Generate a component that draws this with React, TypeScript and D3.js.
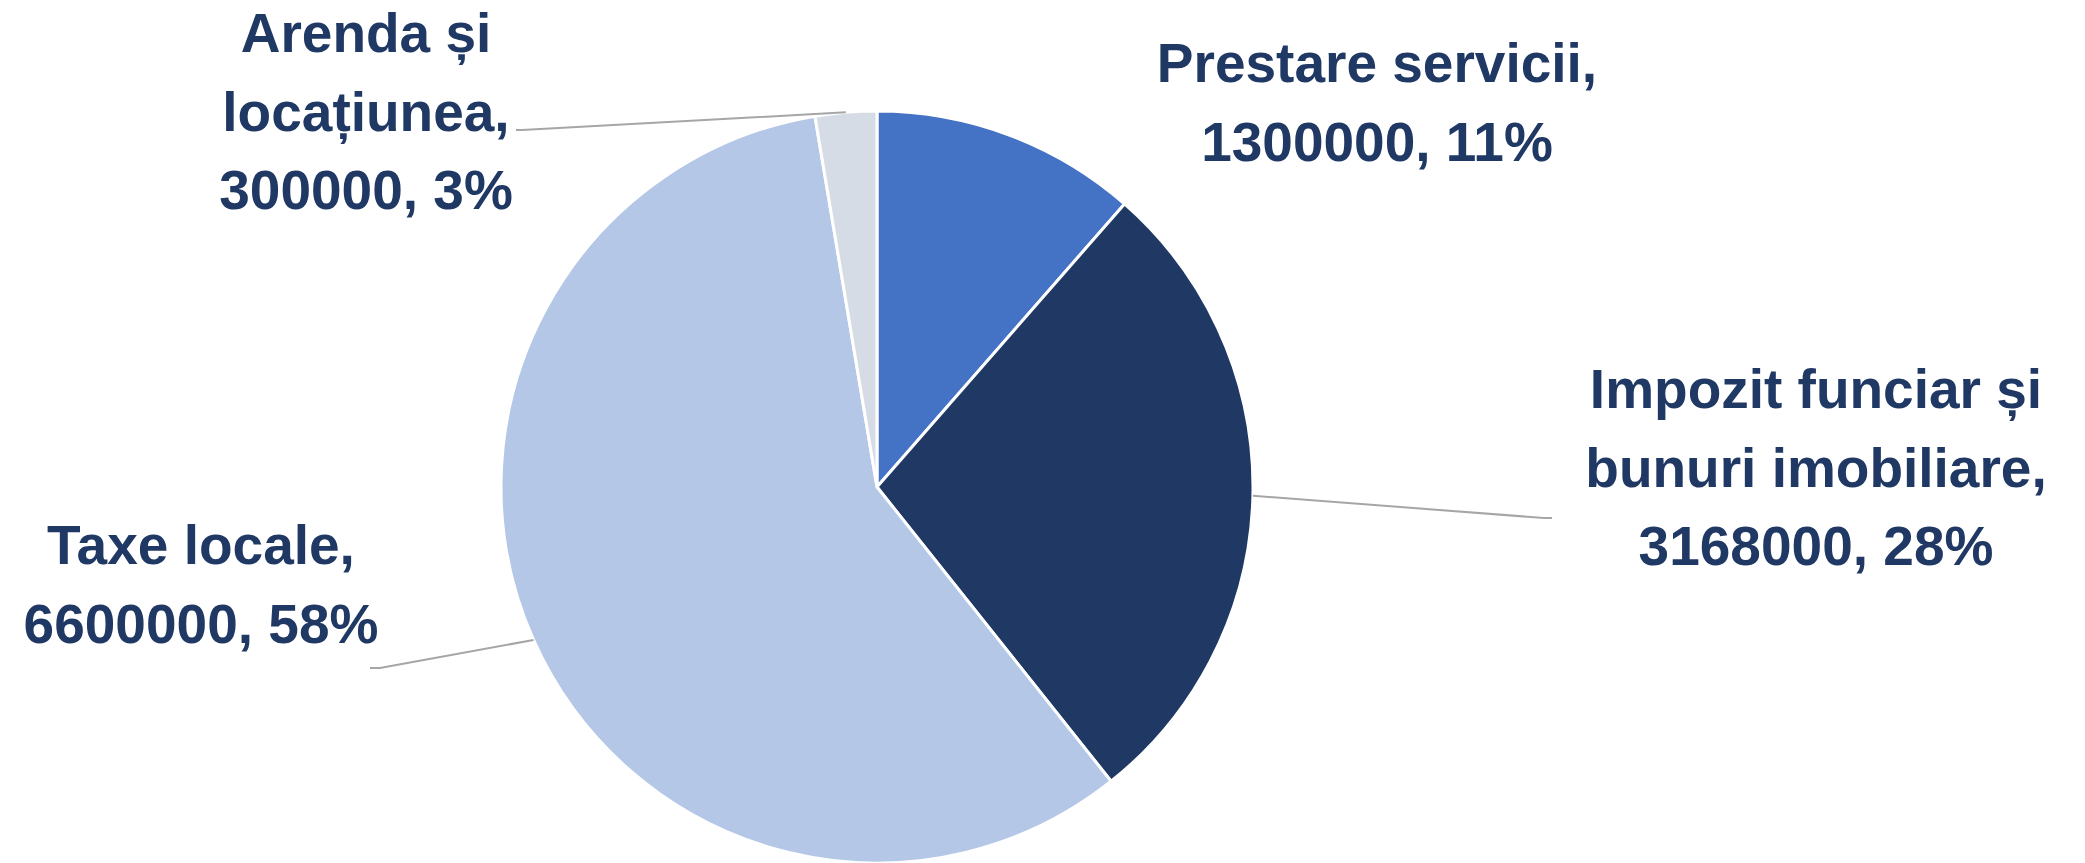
import React from "react";
import * as d3 from "d3";

const categories = ["Prestare servicii", "Impozit funciar și bunuri imobiliare", "Taxe locale", "Arenda și locațiunea"];
const values = [1300000, 3168000, 6600000, 300000];
const colors = ["#4472C4", "#203864", "#B4C7E7", "#D6DCE5"];
const labelLines = [
  ["Prestare servicii,", "1300000, 11%"],
  ["Impozit funciar și", "bunuri imobiliare,", "3168000, 28%"],
  ["Taxe locale,", "6600000, 58%"],
  ["Arenda și", "locațiunea,", "300000, 3%"],
];

const W = 2085;
const H = 863;
const CX = 877;
const CY = 487;
const R = 376;
const LINE_H = 78.5;
// label layout: center x, first baseline y, leader end (or null)
const labelLayout = [
  { x: 1377, y: 82, leader: null as null | [number, number][] },
  { x: 1816, y: 408, leader: [[1544, 518], [1552, 518]] as [number, number][] },
  { x: 201, y: 564, leader: [[380, 668], [370, 668]] as [number, number][] },
  { x: 366, y: 52, leader: [[522, 130], [516, 130]] as [number, number][] },
];

export default function App() {
  const pie = d3.pie<number>().sort(null).value((d) => d);
  const arcs = pie(values);
  const arc = d3.arc<d3.PieArcDatum<number>>().innerRadius(0).outerRadius(R);
  const line = d3.line();

  return (
    <svg width={W} height={H} style={{ position: "absolute", left: 0, top: 0, background: "#fff" }}>
      <g transform={`translate(${CX},${CY})`}>
        {arcs.map((a, i) => (
          <path key={i} d={arc(a) || ""} fill={colors[i]} stroke="#fff" strokeWidth={3} strokeLinejoin="round" />
        ))}
      </g>
      {arcs.map((a, i) => {
        const lay = labelLayout[i];
        if (!lay.leader) return null;
        const mid = (a.startAngle + a.endAngle) / 2;
        const sx = CX + R * Math.sin(mid);
        const sy = CY - R * Math.cos(mid);
        const pts: [number, number][] = [[sx, sy], ...lay.leader];
        return <path key={"l" + i} d={line(pts) || ""} fill="none" stroke="#A6A6A6" strokeWidth={2} />;
      })}
      {labelLines.map((lines, i) => (
        <text
          key={"t" + i}
          x={labelLayout[i].x}
          y={labelLayout[i].y}
          textAnchor="middle"
          fill="#203864"
          fontFamily="'Liberation Sans', Arial, sans-serif"
          fontWeight="bold"
          fontSize={55}
        >
          {lines.map((s, j) => (
            <tspan key={j} x={labelLayout[i].x} y={labelLayout[i].y + j * LINE_H}>
              {s}
            </tspan>
          ))}
        </text>
      ))}
    </svg>
  );
}
